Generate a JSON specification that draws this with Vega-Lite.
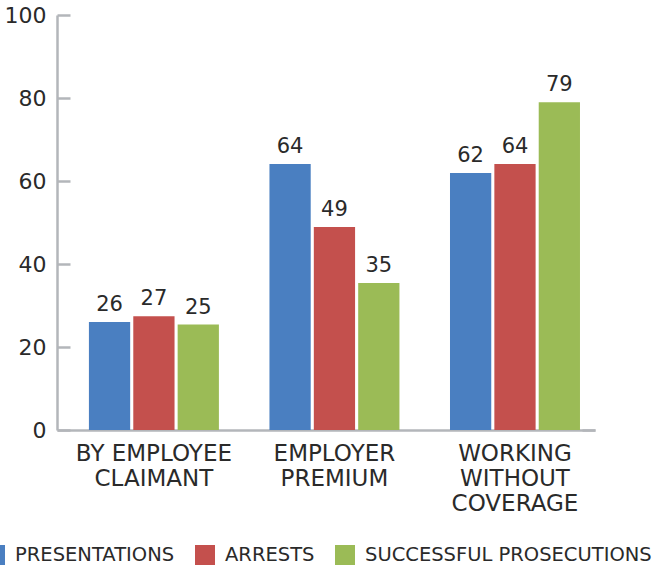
{
  "$schema": "https://vega.github.io/schema/vega-lite/v6.json",
  "autosize": "none",
  "padding": {"left": 57, "top": 15, "right": 72, "bottom": 137},
  "width": 538,
  "height": 415,
  "background": "white",
  "config": {
    "font": "DejaVu Sans",
    "view": {"stroke": null}
  },
  "data": {
    "values": [
      {"cat": "BY EMPLOYEE|CLAIMANT", "series": "PRESENTATIONS", "value": 26.0},
      {"cat": "BY EMPLOYEE|CLAIMANT", "series": "ARRESTS", "value": 27.4},
      {"cat": "BY EMPLOYEE|CLAIMANT", "series": "SUCCESSFUL PROSECUTIONS", "value": 25.4},
      {"cat": "EMPLOYER|PREMIUM", "series": "PRESENTATIONS", "value": 64.1},
      {"cat": "EMPLOYER|PREMIUM", "series": "ARRESTS", "value": 48.9},
      {"cat": "EMPLOYER|PREMIUM", "series": "SUCCESSFUL PROSECUTIONS", "value": 35.4},
      {"cat": "WORKING|WITHOUT|COVERAGE", "series": "PRESENTATIONS", "value": 61.9},
      {"cat": "WORKING|WITHOUT|COVERAGE", "series": "ARRESTS", "value": 64.1},
      {"cat": "WORKING|WITHOUT|COVERAGE", "series": "SUCCESSFUL PROSECUTIONS", "value": 79.0}
    ]
  },
  "encoding": {
    "x": {
      "field": "cat", "type": "nominal", "sort": null,
      "scale": {"paddingInner": 0.28, "paddingOuter": 0.13, "align": 0.68},
      "axis": {
        "title": null, "labelAngle": 0, "ticks": false,
        "domainColor": "#b3b6ba", "domainWidth": 2.5,
        "labelExpr": "split(datum.label, '|')",
        "labelFont": "DejaVu Sans", "labelFontSize": 23, "labelColor": "#2a2a2a",
        "labelLineHeight": 25, "labelPadding": 12, "labelBaseline": "top"
      }
    },
    "xOffset": {
      "field": "series", "type": "nominal", "sort": null,
      "scale": {"paddingInner": 0.07}
    },
    "y": {
      "field": "value", "type": "quantitative",
      "scale": {"domain": [0, 100]}
    },
    "color": {
      "field": "series", "type": "nominal", "sort": null,
      "scale": {
        "domain": ["PRESENTATIONS", "ARRESTS", "SUCCESSFUL PROSECUTIONS"],
        "range": ["#4a7fc1", "#c4504d", "#9bbb56"]
      },
      "legend": {
        "orient": "none", "legendX": -72, "legendY": 530,
        "direction": "horizontal", "title": null,
        "symbolType": "square", "symbolSize": 400, "symbolStrokeWidth": 0,
        "labelFont": "DejaVu Sans", "labelFontSize": 19.5, "labelColor": "#2a2a2a",
        "labelOffset": 10, "columnPadding": 20, "labelLimit": 400
      }
    }
  },
  "layer": [
    {
      "mark": {"type": "bar", "opacity": 1},
      "encoding": {
        "y": {
          "field": "value", "type": "quantitative",
          "scale": {"domain": [0, 100]},
          "axis": {
            "title": null, "values": [0, 20, 40, 60, 80, 100], "grid": false,
            "domainColor": "#b3b6ba", "domainWidth": 2.5,
            "tickColor": "#b3b6ba", "tickWidth": 2.5, "tickSize": -13,
            "labelPadding": 24, "labelFont": "DejaVu Sans", "labelFontSize": 22,
            "labelColor": "#2a2a2a"
          }
        }
      }
    },
    {
      "mark": {"type": "text", "dy": -17, "fontSize": 21, "color": "#2a2a2a", "font": "DejaVu Sans"},
      "encoding": {
        "text": {"field": "value", "type": "quantitative", "format": ".0f"},
        "color": {"value": "#2a2a2a"},
        "y": {
          "field": "value", "type": "quantitative",
          "scale": {"domain": [0, 100]},
          "axis": {
            "orient": "right", "title": null, "values": [0], "grid": false,
            "domain": false, "labels": false,
            "tickColor": "#b3b6ba", "tickWidth": 2.5, "tickSize": -13
          }
        }
      }
    }
  ],
  "resolve": {"axis": {"y": "independent"}}
}
